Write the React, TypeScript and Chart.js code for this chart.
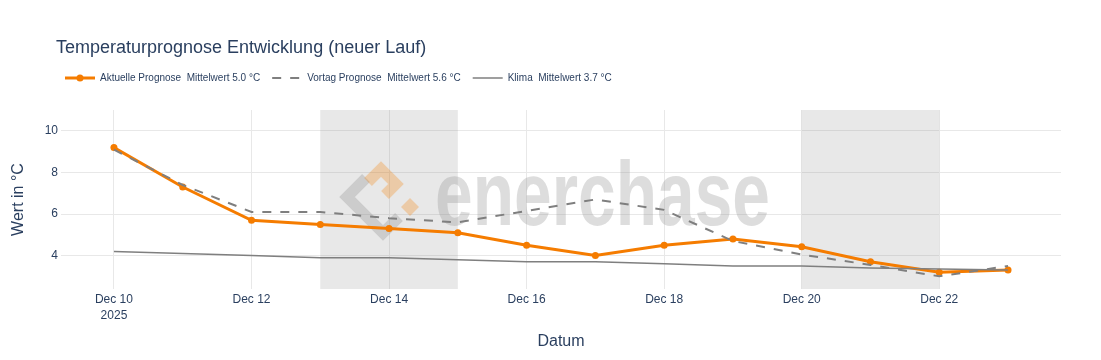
import React, { useEffect, useRef } from "react";
import { Chart, registerables } from "chart.js";

Chart.register(...registerables);

// ---- data ----
const dates = [
  "2025-12-10", "2025-12-11", "2025-12-12", "2025-12-13", "2025-12-14",
  "2025-12-15", "2025-12-16", "2025-12-17", "2025-12-18", "2025-12-19",
  "2025-12-20", "2025-12-21", "2025-12-22", "2025-12-23",
];
const aktuellePrognose = [9.2, 7.3, 5.7, 5.5, 5.3, 5.1, 4.5, 4.0, 4.5, 4.8, 4.42, 3.7, 3.2, 3.3];
const vortagPrognose = [9.1, 7.4, 6.1, 6.1, 5.8, 5.6, 6.15, 6.7, 6.2, 4.7, 4.05, 3.55, 3.0, 3.5];
const klima = [4.2, 4.1, 4.0, 3.9, 3.9, 3.8, 3.7, 3.7, 3.6, 3.5, 3.5, 3.4, 3.35, 3.3];

const seriesLabels = [
  "Aktuelle Prognose  Mittelwert 5.0 °C",
  "Vortag Prognose  Mittelwert 5.6 °C",
  "Klima  Mittelwert 3.7 °C",
];

const xTickDates = ["2025-12-10", "2025-12-12", "2025-12-14", "2025-12-16", "2025-12-18", "2025-12-20", "2025-12-22"];
const xTickLabels: (string | string[])[] = [["Dec 10", "2025"], "Dec 12", "Dec 14", "Dec 16", "Dec 18", "Dec 20", "Dec 22"];
const yTicks = [4, 6, 8, 10];
const weekendRanges = [
  ["2025-12-13", "2025-12-15"],
  ["2025-12-20", "2025-12-22"],
];

const titleText = "Temperaturprognose Entwicklung (neuer Lauf)";
const xAxisTitle = "Datum";
const yAxisTitle = "Wert in °C";
const watermarkText = "enerchase";

// ---- helpers / styles ----
const DAY = 86400000;
const t0 = Date.parse(dates[0]);
const dayOf = (d: string) => (Date.parse(d) - t0) / DAY;

const FONT = '"Liberation Sans", Arial, sans-serif';
const TEXT = "#2a3f5f";
const ORANGE = "#f57c00";
const GREY = "#7f7f7f";

export default function App() {
  const ref = useRef<HTMLCanvasElement | null>(null);

  useEffect(() => {
    document.body.style.margin = "0";
    const canvas = ref.current;
    if (!canvas) return;

    const decorPlugin = {
      id: "decor",
      beforeDatasetsDraw(chart: any) {
        const { ctx, chartArea } = chart;
        const xs = chart.scales.x;
        ctx.save();
        // weekend shading
        ctx.fillStyle = "rgba(128,128,128,0.18)";
        for (const [a, b] of weekendRanges) {
          const x1 = xs.getPixelForValue(dayOf(a));
          const x2 = xs.getPixelForValue(dayOf(b));
          ctx.fillRect(x1, chartArea.top, x2 - x1, chartArea.bottom - chartArea.top);
        }
        // watermark logo
        ctx.lineJoin = "miter";
        ctx.lineCap = "butt";
        ctx.lineWidth = 11;
        ctx.strokeStyle = "rgba(150,150,150,0.34)";
        ctx.beginPath();
        ctx.moveTo(366, 178);
        ctx.lineTo(347, 197);
        ctx.lineTo(383, 233);
        ctx.lineTo(399, 217);
        ctx.stroke();
        ctx.strokeStyle = "rgba(245,124,0,0.28)";
        ctx.beginPath();
        ctx.moveTo(368, 182);
        ctx.lineTo(381, 169);
        ctx.lineTo(396, 184);
        ctx.lineTo(385, 195);
        ctx.stroke();
        ctx.fillStyle = "rgba(245,124,0,0.28)";
        ctx.beginPath();
        ctx.moveTo(410, 198);
        ctx.lineTo(419, 207);
        ctx.lineTo(410, 216);
        ctx.lineTo(401, 207);
        ctx.closePath();
        ctx.fill();
        // watermark text
        ctx.font = `bold 90px ${FONT}`;
        ctx.textBaseline = "alphabetic";
        ctx.textAlign = "left";
        const w = ctx.measureText(watermarkText).width;
        ctx.translate(435, 225);
        ctx.scale(335 / w, 1);
        ctx.fillStyle = "rgba(150,150,150,0.32)";
        ctx.fillText(watermarkText, 0, 0);
        ctx.restore();
      },
      afterDraw(chart: any) {
        const { ctx, chartArea } = chart;
        ctx.save();
        // title
        ctx.fillStyle = TEXT;
        ctx.font = `18px ${FONT}`;
        ctx.textAlign = "left";
        ctx.textBaseline = "middle";
        ctx.fillText(titleText, 56, 48);

        // legend
        ctx.font = `10px ${FONT}`;
        let x = 65;
        const ly = 78;
        seriesLabels.forEach((label, i) => {
          ctx.save();
          if (i === 0) {
            ctx.strokeStyle = ORANGE;
            ctx.lineWidth = 3;
            ctx.beginPath();
            ctx.moveTo(x, ly);
            ctx.lineTo(x + 30, ly);
            ctx.stroke();
            ctx.fillStyle = ORANGE;
            ctx.beginPath();
            ctx.arc(x + 15, ly, 3.5, 0, Math.PI * 2);
            ctx.fill();
          } else if (i === 1) {
            ctx.strokeStyle = GREY;
            ctx.lineWidth = 2;
            ctx.setLineDash([9, 9]);
            ctx.beginPath();
            ctx.moveTo(x, ly);
            ctx.lineTo(x + 30, ly);
            ctx.stroke();
          } else {
            ctx.strokeStyle = GREY;
            ctx.lineWidth = 1.5;
            ctx.beginPath();
            ctx.moveTo(x, ly);
            ctx.lineTo(x + 30, ly);
            ctx.stroke();
          }
          ctx.restore();
          ctx.fillStyle = TEXT;
          ctx.textAlign = "left";
          ctx.textBaseline = "middle";
          ctx.fillText(label, x + 35, ly);
          x += 35 + ctx.measureText(label).width + 12;
        });

        // axis titles
        ctx.font = `16px ${FONT}`;
        ctx.textAlign = "center";
        ctx.textBaseline = "middle";
        ctx.fillText(xAxisTitle, (chartArea.left + chartArea.right) / 2, 342);
        ctx.translate(19, (chartArea.top + chartArea.bottom) / 2);
        ctx.rotate(-Math.PI / 2);
        ctx.fillText(yAxisTitle, 0, 0);
        ctx.restore();
      },
    };

    const chart = new Chart(canvas, {
      type: "line",
      data: {
        datasets: [
          {
            label: seriesLabels[0],
            data: dates.map((d, i) => ({ x: dayOf(d), y: aktuellePrognose[i] })),
            borderColor: ORANGE,
            backgroundColor: ORANGE,
            borderWidth: 3,
            pointRadius: 3.5,
            pointBorderWidth: 0,
            pointBackgroundColor: ORANGE,
            tension: 0,
            order: 3,
          },
          {
            label: seriesLabels[1],
            data: dates.map((d, i) => ({ x: dayOf(d), y: vortagPrognose[i] })),
            borderColor: GREY,
            borderWidth: 2,
            borderDash: [9, 9],
            pointRadius: 0,
            tension: 0,
            order: 2,
          },
          {
            label: seriesLabels[2],
            data: dates.map((d, i) => ({ x: dayOf(d), y: klima[i] })),
            borderColor: GREY,
            borderWidth: 1.5,
            pointRadius: 0,
            tension: 0,
            order: 1,
          },
        ],
      },
      options: {
        animation: false,
        responsive: false,
        events: [],
        layout: { padding: { top: 110, right: 40, left: 0, bottom: 0 } },
        plugins: {
          legend: { display: false },
          title: { display: false },
          tooltip: { enabled: false },
        },
        scales: {
          x: {
            type: "linear",
            min: -0.77,
            max: 13.77,
            border: { display: false },
            grid: { color: "#e8e8e8", lineWidth: 1, drawTicks: false },
            afterBuildTicks: (scale: any) => {
              scale.ticks = xTickDates.map((d) => ({ value: dayOf(d) }));
            },
            afterFit: (scale: any) => {
              scale.height = 71;
            },
            ticks: {
              autoSkip: false,
              maxRotation: 0,
              minRotation: 0,
              padding: 3,
              color: TEXT,
              font: { family: FONT, size: 12, lineHeight: 16 / 12 },
              callback: (_v: any, i: number) => xTickLabels[i],
            },
          },
          y: {
            type: "linear",
            min: 2.39,
            max: 11.01,
            border: { display: false },
            grid: { color: "#e8e8e8", lineWidth: 1, drawTicks: false },
            afterBuildTicks: (scale: any) => {
              scale.ticks = yTicks.map((v) => ({ value: v }));
            },
            afterFit: (scale: any) => {
              scale.width = 61;
            },
            ticks: {
              padding: 3,
              color: TEXT,
              font: { family: FONT, size: 12 },
              callback: (v: any) => String(v),
            },
          },
        },
      },
      plugins: [decorPlugin],
    } as any);

    return () => chart.destroy();
  }, []);

  return <canvas ref={ref} width={1101} height={360} style={{ display: "block", width: 1101, height: 360 }} />;
}
